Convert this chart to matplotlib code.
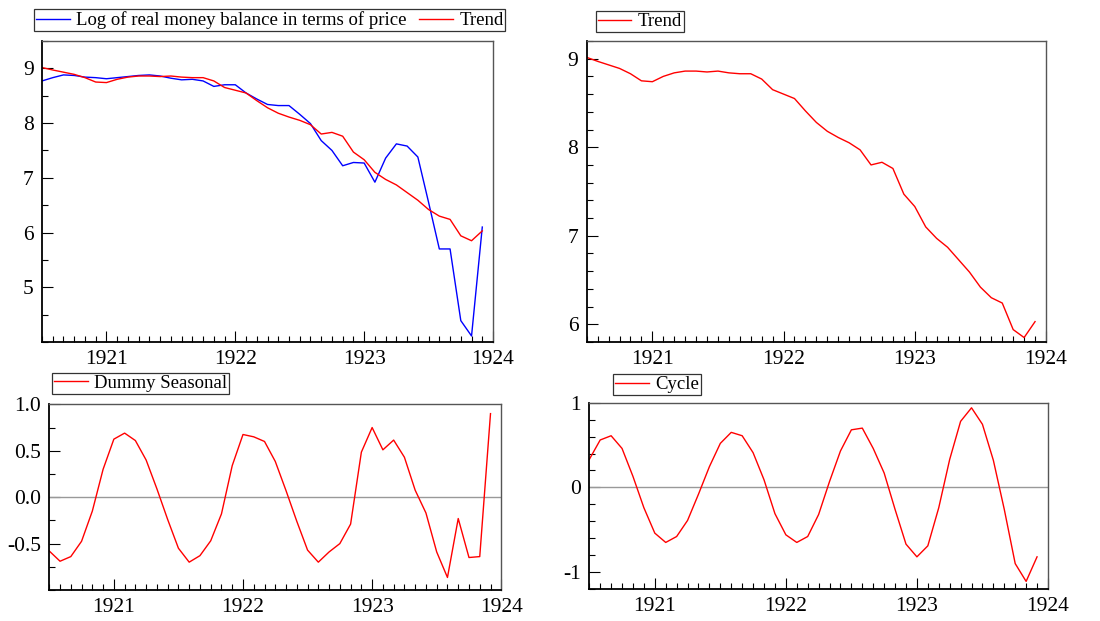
import numpy as np
import matplotlib
matplotlib.use('Agg')
import matplotlib.pyplot as plt
from matplotlib.ticker import MultipleLocator

plt.rcParams['font.family'] = ['Liberation Serif', 'DejaVu Serif']

# monthly dates, July 1920 .. Dec 1923
months = 1920.5 + np.arange(42) / 12.0

log_money = [8.77, 8.83, 8.88, 8.87, 8.84, 8.83, 8.81, 8.83, 8.85, 8.87,
             8.88, 8.86, 8.82, 8.79, 8.80, 8.77, 8.67, 8.70, 8.70, 8.55,
             8.44, 8.34, 8.32, 8.32, 8.16, 7.99, 7.68, 7.50, 7.22, 7.28,
             7.27, 6.92, 7.36, 7.62, 7.58, 7.38, 6.55, 5.70, 5.70, 4.39,
             4.11, 6.10]

trend = [9.015, 8.97, 8.93, 8.89, 8.83, 8.75, 8.74, 8.80, 8.84, 8.86,
         8.86, 8.85, 8.86, 8.84, 8.83, 8.83, 8.77, 8.65, 8.60, 8.55,
         8.41, 8.28, 8.18, 8.11, 8.05, 7.97, 7.80, 7.83, 7.76, 7.47,
         7.33, 7.10, 6.97, 6.87, 6.73, 6.59, 6.42, 6.30, 6.24, 5.94,
         5.85, 6.03]

seasonal = [-0.58, -0.69, -0.64, -0.475, -0.15, 0.30, 0.625, 0.69, 0.61, 0.40,
            0.09, -0.24, -0.55, -0.70, -0.63, -0.47, -0.18, 0.34, 0.675, 0.65,
            0.60, 0.385, 0.07, -0.26, -0.57, -0.70, -0.59, -0.50, -0.29, 0.485,
            0.75, 0.51, 0.615, 0.43, 0.075, -0.17, -0.59, -0.865, -0.23, -0.65,
            -0.64, 0.90]

cycle = [0.33, 0.56, 0.61, 0.46, 0.13, -0.24, -0.54, -0.65, -0.58, -0.39,
         -0.08, 0.245, 0.52, 0.65, 0.61, 0.41, 0.09, -0.31, -0.56, -0.65,
         -0.58, -0.32, 0.07, 0.43, 0.68, 0.70, 0.46, 0.17, -0.26, -0.67,
         -0.82, -0.69, -0.24, 0.33, 0.78, 0.94, 0.745, 0.32, -0.26, -0.90,
         -1.11, -0.82]

year_ticks = [1921, 1922, 1923, 1924]


def style_axes(ax, ylim, ymajor, yminor):
    ax.set_xlim(1920.5, 1924.0)
    ax.set_ylim(*ylim)
    ax.xaxis.set_minor_locator(MultipleLocator(1 / 12))
    ax.set_xticks(year_ticks)
    ax.set_xticklabels([str(y) for y in year_ticks])
    ax.yaxis.set_major_locator(MultipleLocator(ymajor))
    ax.yaxis.set_minor_locator(MultipleLocator(yminor))
    ax.tick_params(which='both', direction='in', top=False, right=False,
                   labelsize=15.5, colors='black')
    ax.tick_params(which='major', length=8, width=0.8, pad=6)
    ax.tick_params(which='minor', length=4, width=0.8)
    for s in ['left', 'bottom']:
        ax.spines[s].set_color('black')
        ax.spines[s].set_linewidth(1.3)
    for s in ['top', 'right']:
        ax.spines[s].set_color('#555555')
        ax.spines[s].set_linewidth(1.0)


def add_legend(ax, x, y, ncol=1):
    leg = ax.legend(loc='lower left', bbox_to_anchor=(x, y),
                    bbox_transform=ax.figure.transFigure, ncol=ncol,
                    fontsize=13.5, frameon=True, fancybox=False, borderaxespad=0,
                    handlelength=1.8, borderpad=0.1, columnspacing=0.65,
                    handletextpad=0.35)
    leg.get_frame().set_edgecolor('black')
    leg.get_frame().set_linewidth(0.9)
    return leg


fig = plt.figure(figsize=(11, 6.21), dpi=100)

ax1 = fig.add_axes([0.0382, 0.4493, 0.410, 0.4847])
ax1.plot(months, log_money, color='blue', lw=1, label='Log of real money balance in terms of price')
ax1.plot(months, trend, color='red', lw=1, label='Trend')
style_axes(ax1, (4.0, 9.5), 1, 0.5)
ax1.set_yticks([5, 6, 7, 8, 9])
add_legend(ax1, 0.0309, 0.950, ncol=2)

ax2 = fig.add_axes([0.5334, 0.4493, 0.4175, 0.4847])
ax2.plot(months, trend, color='red', lw=1, label='Trend')
style_axes(ax2, (5.8, 9.2), 1, 0.2)
ax2.set_yticks([6, 7, 8, 9])
add_legend(ax2, 0.5415, 0.9485)

ax3 = fig.add_axes([0.0448, 0.0499, 0.4109, 0.299])
ax3.axhline(0, color='#999999', lw=1)
ax3.plot(months, seasonal, color='red', lw=1, label='Dummy Seasonal')
style_axes(ax3, (-1.0, 1.0), 0.5, 0.25)
ax3.set_yticks([-0.5, 0.0, 0.5, 1.0])
ax3.set_yticklabels(['-0.5', '0.0', '0.5', '1.0'])
add_legend(ax3, 0.0473, 0.366)

ax4 = fig.add_axes([0.5357, 0.0515, 0.417, 0.300])
ax4.axhline(0, color='#999999', lw=1)
ax4.plot(months, cycle, color='red', lw=1, label='Cycle')
style_axes(ax4, (-1.2, 1.0), 1, 0.2)
ax4.set_yticks([-1, 0, 1])
ax4.set_yticklabels(['-1', '0', '1'])
add_legend(ax4, 0.5573, 0.364)

fig.savefig('out.png', dpi=100)
